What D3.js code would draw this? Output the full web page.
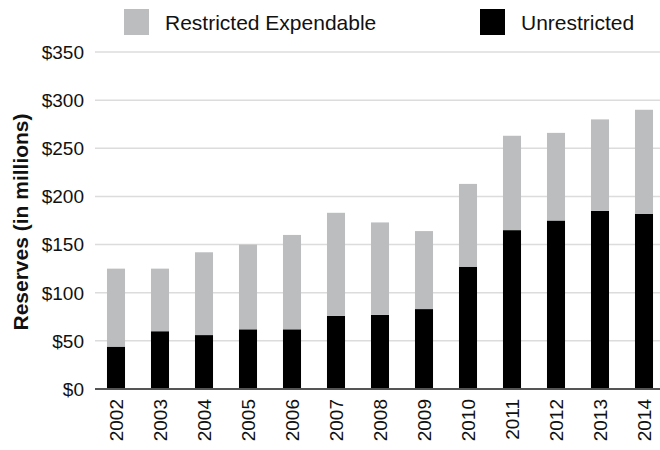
<!DOCTYPE html>
<html>
<head>
<meta charset="utf-8">
<script src="https://cdn.jsdelivr.net/npm/d3@7"></script>
<style>
  body { margin: 0; background: #fff; }
  text { font-family: "Liberation Sans", Arial, sans-serif; fill: #111; }
</style>
</head>
<body>
<div id="chart"></div>
<script>
// data
var years = ["2002", "2003", "2004", "2005", "2006", "2007", "2008", "2009", "2010", "2011", "2012", "2013", "2014"];
var unrestricted = [44, 60, 56, 62, 62, 76, 77, 83, 127, 165, 175, 185, 182];
var restricted = [81, 65, 86, 88, 98, 107, 96, 81, 86, 98, 91, 95, 108];
var yTicks = [0, 50, 100, 150, 200, 250, 300, 350];
var seriesNames = ["Restricted Expendable", "Unrestricted"];
var seriesColors = ["#bcbdbf", "#000000"];

var W = 660, H = 450;
var m = {left: 95, right: 660, top: 52, bottom: 389};

var svg = d3.select("#chart").append("svg")
    .attr("width", W)
    .attr("height", H);

var x = d3.scaleBand()
    .domain(years)
    .range([94, 666])
    .paddingInner(0.59)
    .paddingOuter(0.295);

var y = d3.scaleLinear()
    .domain([0, 350])
    .range([m.bottom, m.top]);

// gridlines
svg.append("g")
    .selectAll("line")
    .data(yTicks.slice(1))
    .enter().append("line")
    .attr("x1", m.left)
    .attr("x2", m.right)
    .attr("y1", (d) => y(d))
    .attr("y2", (d) => y(d))
    .attr("stroke", "#dcdcdc")
    .attr("stroke-width", 1.5);

// y labels
svg.append("g")
    .selectAll("text")
    .data(yTicks)
    .enter().append("text")
    .attr("x", 84)
    .attr("y", (d) => y(d))
    .attr("dy", "0.36em")
    .attr("text-anchor", "end")
    .style("font-size", "19px")
    .text((d) => "$" + d);

// stacked bars
var rows = years.map(function(yr, i) {
    return {year: yr, unrestricted: unrestricted[i], restricted: restricted[i]};
});
var stack = d3.stack().keys(["unrestricted", "restricted"])(rows);
var colorFor = {unrestricted: seriesColors[1], restricted: seriesColors[0]};

svg.append("g")
    .selectAll("g")
    .data(stack)
    .enter().append("g")
    .attr("fill", (s) => colorFor[s.key])
    .selectAll("rect")
    .data((s) => s)
    .enter().append("rect")
    .attr("x", (d) => x(d.data.year))
    .attr("width", x.bandwidth())
    .attr("y", (d) => y(d[1]))
    .attr("height", (d) => y(d[0]) - y(d[1]));

// baseline
svg.append("line")
    .attr("x1", m.left)
    .attr("x2", m.right)
    .attr("y1", m.bottom)
    .attr("y2", m.bottom)
    .attr("stroke", "#555")
    .attr("stroke-width", 2);

// x labels, rotated
svg.append("g")
    .selectAll("text")
    .data(years)
    .enter().append("text")
    .attr("transform", (d) => "translate(" + (x(d) + x.bandwidth() / 2) + "," + (m.bottom + 10) + ") rotate(-90)")
    .attr("text-anchor", "end")
    .attr("dy", "0.36em")
    .style("font-size", "19px")
    .text((d) => d);

// y axis title
svg.append("text")
    .attr("transform", "translate(20,222) rotate(-90)")
    .attr("text-anchor", "middle")
    .attr("dy", "0.36em")
    .style("font-size", "21px")
    .style("font-weight", "bold")
    .text("Reserves (in millions)");

// legend
var legendX = [124, 480];
var legend = svg.append("g")
    .selectAll("g")
    .data(seriesNames)
    .enter().append("g")
    .attr("transform", (d, i) => "translate(" + legendX[i] + ",9)");

legend.append("rect")
    .attr("width", 25)
    .attr("height", 26)
    .attr("fill", (d, i) => seriesColors[i]);

legend.append("text")
    .attr("x", 41)
    .attr("y", 13)
    .attr("dy", "0.36em")
    .style("font-size", "21px")
    .text((d) => d);
</script>
</body>
</html>
